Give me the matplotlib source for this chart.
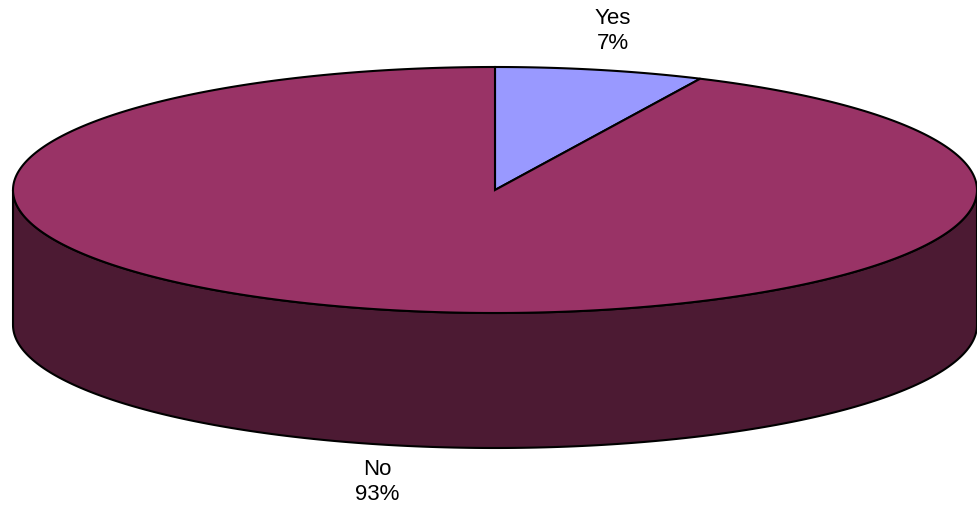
import numpy as np
import matplotlib
matplotlib.use('Agg')
import matplotlib.pyplot as plt
from matplotlib.patches import Polygon

# veriler
labels = ['Yes', 'No']
values = [7, 93]
top_colors = ['#9999FF', '#993366']
side_colors = ['#4D4D80', '#4C1A33']

# elips geometrisi (piksel)
cx, cy = 495, 190
a, b = 482, 123
depth = 135

fig = plt.figure(figsize=(9.77, 5.09), dpi=100)
ax = fig.add_axes([0, 0, 1, 1])
ax.set_xlim(0, 977)
ax.set_ylim(509, 0)
ax.axis('off')


def pt(t, dy=0):
    return cx + a * np.cos(t), cy - b * np.sin(t) + dy


fracs = np.array(values) / sum(values)
start = np.pi / 2
wedges = []
for f in fracs:
    end = start - f * 2 * np.pi
    wedges.append((start, end))
    start = end

# yan duvar (sadece on yari)
for (s, e), col in zip(wedges, side_colors):
    lo, hi = max(e, -np.pi), min(s, 0)
    # -270 ile -180 arasi da on taraf degil, 0..-180 arasini al
    if hi <= lo:
        continue
    t = np.linspace(hi, lo, 200)
    x1, y1 = pt(t)
    x2, y2 = pt(t[::-1], depth)
    poly = Polygon(np.column_stack([np.r_[x1, x2], np.r_[y1, y2]]),
                   closed=True, facecolor=col, edgecolor='black', lw=1.5)
    ax.add_patch(poly)

# ust yuzey dilimleri
for (s, e), col in zip(wedges, top_colors):
    t = np.linspace(s, e, 400)
    x, y = pt(t)
    xs = np.r_[cx, x]
    ys = np.r_[cy, y]
    poly = Polygon(np.column_stack([xs, ys]), closed=True,
                   facecolor=col, edgecolor='black', lw=1.5, joinstyle='miter')
    ax.add_patch(poly)

# etiketler
for (s, e), lab, v in zip(wedges, labels, values):
    mid = (s + e) / 2
    x = cx + 1.12 * a * np.cos(mid)
    if np.sin(mid) > 0:
        y = cy - b - 36
    else:
        y = cy + b + depth + 34
    ax.text(x, y, f'{lab}\n{v}%', ha='center', va='center',
            fontsize=16, family='Liberation Sans', linespacing=1.25)

fig.savefig('out.png', dpi=100)
